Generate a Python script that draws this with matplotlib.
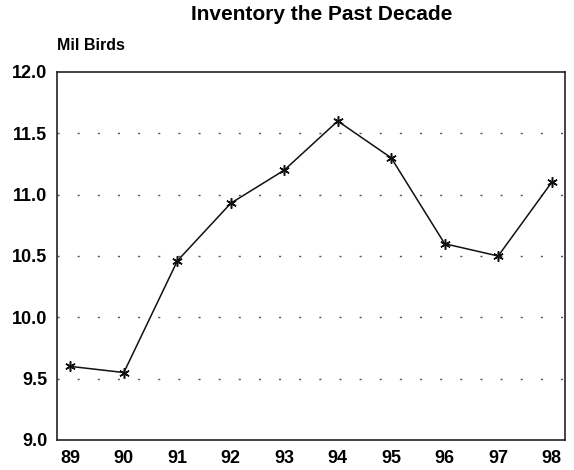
import matplotlib
matplotlib.use("Agg")
import matplotlib.pyplot as plt

years = ["89", "90", "91", "92", "93", "94", "95", "96", "97", "98"]
inventory = [9.6, 9.55, 10.46, 10.93, 11.2, 11.6, 11.3, 10.6, 10.5, 11.1]
y_ticks = [9.0, 9.5, 10.0, 10.5, 11.0, 11.5, 12.0]

plt.rcParams['font.family'] = ['Liberation Sans', 'DejaVu Sans']

fig = plt.figure(figsize=(5.74, 4.70), dpi=100)
ax = fig.add_axes([57 / 574, 1 - 440 / 470, 508 / 574, 368 / 470])

x = list(range(len(years)))
ax.plot(x, inventory, color='#111111', linewidth=1.1, marker=(6, 2, 0),
        markersize=7.5, markeredgewidth=1.1, zorder=3)

ax.set_xlim(-0.25, 9.25)
ax.set_ylim(9.0, 12.0)
ax.set_xticks(x)
ax.set_xticklabels(years)
ax.set_yticks(y_ticks)
ax.set_yticklabels([f"{v:.1f}" for v in y_ticks])
ax.tick_params(length=0, labelsize=13)
ax.tick_params(axis='x', pad=7)
ax.tick_params(axis='y', pad=7)
for lbl in ax.get_xticklabels() + ax.get_yticklabels():
    lbl.set_fontweight('bold')

for v in y_ticks[1:-1]:
    ax.axhline(v, color='#555555', linewidth=1, linestyle=(0, (1.5, 13)), zorder=1)

for s in ax.spines.values():
    s.set_linewidth(1.2)
    s.set_color('#222222')

fig.text(322 / 574, 1 - 14 / 470, "Inventory the Past Decade", ha='center', va='center',
         fontsize=15, fontweight='bold')
fig.text(57 / 574, 1 - 45 / 470, "Mil Birds", ha='left', va='center',
         fontsize=11.5, fontweight='bold')

fig.savefig("out.png", dpi=100)
